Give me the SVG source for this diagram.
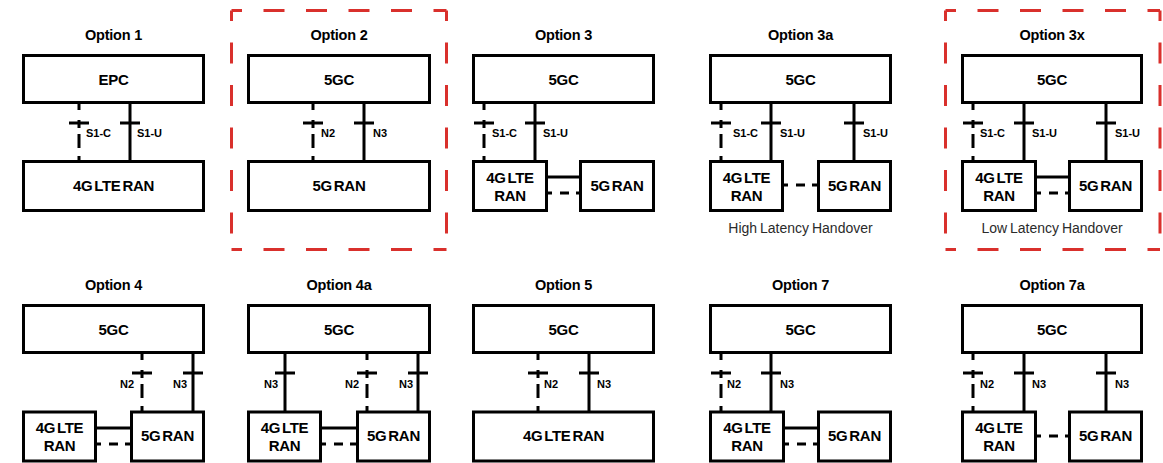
<svg xmlns="http://www.w3.org/2000/svg" width="1163" height="463" viewBox="0 0 1163 463">
<style>
.box{fill:#fff;stroke:#000;stroke-width:3}
.t{font-family:"Liberation Sans",Arial,sans-serif;font-weight:bold;font-size:14.5px;text-anchor:middle;fill:#000;letter-spacing:-0.2px}
.bl{font-family:"Liberation Sans",Arial,sans-serif;font-weight:bold;font-size:15px;text-anchor:middle;fill:#000;word-spacing:-2px;letter-spacing:-0.3px}
.if{font-family:"Liberation Sans",Arial,sans-serif;font-weight:bold;font-size:11px;fill:#000}
.ife{font-family:"Liberation Sans",Arial,sans-serif;font-weight:bold;font-size:11px;fill:#000;text-anchor:end}
.cap{font-family:"Liberation Sans",Arial,sans-serif;font-size:14px;text-anchor:middle;fill:#2b2b2b;word-spacing:-1px}
.s{stroke:#000;stroke-width:3;fill:none}
.d{stroke:#000;stroke-width:3;fill:none;stroke-dasharray:6 10 8 6 14 8 10}
.dh{stroke:#000;stroke-width:3;fill:none;stroke-dasharray:4 8 9 7 10}
.red{stroke:#d9302c;stroke-width:3;fill:none;stroke-dasharray:21 21.5;stroke-dashoffset:10.5}
</style>

<!-- highlight frames -->
<g id="highlight-option2">
<path class="red" d="M231.5 10.5H446.5"/><path class="red" d="M446.5 10.5V249.5"/><path class="red" d="M231.5 10.5V249.5"/><path class="red" d="M231.5 249.5H446.5"/>
</g>
<g id="highlight-option3x">
<path class="red" d="M945.5 10.5H1160"/><path class="red" d="M1160 10.5V249.5"/><path class="red" d="M945.5 10.5V249.5"/><path class="red" d="M945.5 249.5H1160"/>
</g>

<!-- titles and captions -->
<g id="titles">
<text class="t" x="113.5" y="40">Option 1</text>
<text class="t" x="339" y="40">Option 2</text>
<text class="t" x="563.5" y="40">Option 3</text>
<text class="t" x="800.5" y="40">Option 3a</text>
<text class="t" x="1052" y="40">Option 3x</text>
<text class="t" x="113.5" y="290">Option 4</text>
<text class="t" x="339" y="290">Option 4a</text>
<text class="t" x="563.5" y="290">Option 5</text>
<text class="t" x="800.5" y="290">Option 7</text>
<text class="t" x="1052" y="290">Option 7a</text>
<text class="cap" x="800.5" y="233">High Latency Handover</text>
<text class="cap" x="1052" y="233">Low Latency Handover</text>
</g>

<!-- connectors -->
<g id="connectors">
<!-- Option 1 -->
<path class="d" d="M79 104V160"/><path class="s" d="M69 123H89"/>
<path class="s" d="M130 104V160M120 123H140"/>
<text class="if" x="86" y="137">S1-C</text><text class="if" x="137" y="137">S1-U</text>
<!-- Option 2 -->
<path class="d" d="M313 104V160"/><path class="s" d="M303 123H323"/>
<path class="s" d="M364 104V160M354 123H374"/>
<text class="if" x="321" y="137">N2</text><text class="if" x="373" y="137">N3</text>
<!-- Option 3 -->
<path class="d" d="M484 104V160"/><path class="s" d="M474 123H494"/>
<path class="s" d="M535 104V160M525 123H545"/>
<text class="if" x="492" y="137">S1-C</text><text class="if" x="543" y="137">S1-U</text>
<path class="s" d="M548 177H579"/><path class="dh" d="M548 193H579"/>
<!-- Option 3a -->
<path class="d" d="M721 104V160"/><path class="s" d="M711 123H731"/>
<path class="s" d="M771 104V160M761 123H781"/>
<path class="s" d="M854 104V160M844 123H864"/>
<text class="if" x="733" y="137">S1-C</text><text class="if" x="780" y="137">S1-U</text><text class="if" x="863" y="137">S1-U</text>
<path class="dh" d="M784 185H817"/>
<!-- Option 3x -->
<path class="d" d="M973 104V160"/><path class="s" d="M963 123H983"/>
<path class="s" d="M1024 104V160M1014 123H1034"/>
<path class="s" d="M1106 104V160M1096 123H1116"/>
<text class="if" x="980" y="137">S1-C</text><text class="if" x="1032" y="137">S1-U</text><text class="if" x="1115" y="137">S1-U</text>
<path class="s" d="M1037 177H1068"/><path class="dh" d="M1037 193H1068"/>
<!-- Option 4 -->
<path class="d" d="M142 354V411"/><path class="s" d="M132 373H152"/>
<path class="s" d="M193 354V411M183 373H203"/>
<text class="ife" x="134" y="388">N2</text><text class="ife" x="187" y="388">N3</text>
<path class="s" d="M97 428H130"/><path class="dh" d="M97 444H130"/>
<!-- Option 4a -->
<path class="s" d="M285 354V411M275 373H295"/>
<path class="d" d="M367 354V411"/><path class="s" d="M357 373H377"/>
<path class="s" d="M418 354V411M408 373H428"/>
<text class="ife" x="278" y="388">N3</text><text class="ife" x="359" y="388">N2</text><text class="ife" x="413" y="388">N3</text>
<path class="s" d="M322 428H356"/><path class="dh" d="M322 444H356"/>
<!-- Option 5 -->
<path class="d" d="M538 354V411"/><path class="s" d="M528 373H548"/>
<path class="s" d="M589 354V411M579 373H599"/>
<text class="if" x="544" y="388">N2</text><text class="if" x="597" y="388">N3</text>
<!-- Option 7 -->
<path class="d" d="M721 354V411"/><path class="s" d="M711 373H731"/>
<path class="s" d="M771 354V411M761 373H781"/>
<text class="if" x="727" y="388">N2</text><text class="if" x="780" y="388">N3</text>
<path class="s" d="M785 428H817"/><path class="dh" d="M785 444H817"/>
<!-- Option 7a -->
<path class="d" d="M973 354V411"/><path class="s" d="M963 373H983"/>
<path class="s" d="M1024 354V411M1014 373H1034"/>
<path class="s" d="M1106 354V411M1096 373H1116"/>
<text class="if" x="980" y="388">N2</text><text class="if" x="1032" y="388">N3</text><text class="if" x="1115" y="388">N3</text>
<path class="dh" d="M1037 436H1068"/>
</g>

<!-- Option 1 nodes -->
<g id="opt1-epc"><rect class="box" x="23.5" y="55.5" width="180" height="47"/><text class="bl" x="113.5" y="85">EPC</text></g>
<g id="opt1-lte"><rect class="box" x="23.5" y="161.5" width="180" height="49"/><text class="bl" x="113.5" y="191">4G LTE RAN</text></g>
<!-- Option 2 -->
<g id="opt2-5gc"><rect class="box" x="248.5" y="55.5" width="181" height="47"/><text class="bl" x="339" y="85">5GC</text></g>
<g id="opt2-5gran"><rect class="box" x="248.5" y="161.5" width="181" height="49"/><text class="bl" x="339" y="191">5G RAN</text></g>
<!-- Option 3 -->
<g id="opt3-5gc"><rect class="box" x="473.5" y="55.5" width="180" height="47"/><text class="bl" x="563.5" y="85">5GC</text></g>
<g id="opt3-lte"><rect class="box" x="473.5" y="161.5" width="73" height="49"/><text class="bl" x="510" y="183">4G LTE</text><text class="bl" x="510" y="201">RAN</text></g>
<g id="opt3-5gran"><rect class="box" x="580.5" y="161.5" width="73" height="49"/><text class="bl" x="617" y="191">5G RAN</text></g>
<!-- Option 3a -->
<g id="opt3a-5gc"><rect class="box" x="710.5" y="55.5" width="180" height="47"/><text class="bl" x="800.5" y="85">5GC</text></g>
<g id="opt3a-lte"><rect class="box" x="710.5" y="161.5" width="72" height="49"/><text class="bl" x="746.5" y="183">4G LTE</text><text class="bl" x="746.5" y="201">RAN</text></g>
<g id="opt3a-5gran"><rect class="box" x="818.5" y="161.5" width="72" height="49"/><text class="bl" x="854.5" y="191">5G RAN</text></g>
<!-- Option 3x -->
<g id="opt3x-5gc"><rect class="box" x="962.5" y="55.5" width="179" height="47"/><text class="bl" x="1052" y="85">5GC</text></g>
<g id="opt3x-lte"><rect class="box" x="962.5" y="161.5" width="73" height="49"/><text class="bl" x="999" y="183">4G LTE</text><text class="bl" x="999" y="201">RAN</text></g>
<g id="opt3x-5gran"><rect class="box" x="1069.5" y="161.5" width="72" height="49"/><text class="bl" x="1105.5" y="191">5G RAN</text></g>
<!-- Option 4 -->
<g id="opt4-5gc"><rect class="box" x="23.5" y="305.5" width="180" height="47"/><text class="bl" x="113.5" y="335">5GC</text></g>
<g id="opt4-lte"><rect class="box" x="23.5" y="412" width="72" height="49"/><text class="bl" x="59.5" y="433">4G LTE</text><text class="bl" x="59.5" y="451">RAN</text></g>
<g id="opt4-5gran"><rect class="box" x="131.5" y="412" width="72" height="49"/><text class="bl" x="167.5" y="441">5G RAN</text></g>
<!-- Option 4a -->
<g id="opt4a-5gc"><rect class="box" x="248.5" y="305.5" width="181" height="47"/><text class="bl" x="339" y="335">5GC</text></g>
<g id="opt4a-lte"><rect class="box" x="248.5" y="412" width="72" height="49"/><text class="bl" x="284.5" y="433">4G LTE</text><text class="bl" x="284.5" y="451">RAN</text></g>
<g id="opt4a-5gran"><rect class="box" x="357.5" y="412" width="72" height="49"/><text class="bl" x="393.5" y="441">5G RAN</text></g>
<!-- Option 5 -->
<g id="opt5-5gc"><rect class="box" x="473.5" y="305.5" width="180" height="47"/><text class="bl" x="563.5" y="335">5GC</text></g>
<g id="opt5-lte"><rect class="box" x="473.5" y="412" width="180" height="49"/><text class="bl" x="563.5" y="441">4G LTE RAN</text></g>
<!-- Option 7 -->
<g id="opt7-5gc"><rect class="box" x="710.5" y="305.5" width="180" height="47"/><text class="bl" x="800.5" y="335">5GC</text></g>
<g id="opt7-lte"><rect class="box" x="710.5" y="412" width="73" height="49"/><text class="bl" x="747" y="433">4G LTE</text><text class="bl" x="747" y="451">RAN</text></g>
<g id="opt7-5gran"><rect class="box" x="818.5" y="412" width="72" height="49"/><text class="bl" x="854.5" y="441">5G RAN</text></g>
<!-- Option 7a -->
<g id="opt7a-5gc"><rect class="box" x="962.5" y="305.5" width="179" height="47"/><text class="bl" x="1052" y="335">5GC</text></g>
<g id="opt7a-lte"><rect class="box" x="962.5" y="412" width="73" height="49"/><text class="bl" x="999" y="433">4G LTE</text><text class="bl" x="999" y="451">RAN</text></g>
<g id="opt7a-5gran"><rect class="box" x="1069.5" y="412" width="72" height="49"/><text class="bl" x="1105.5" y="441">5G RAN</text></g>
</svg>
